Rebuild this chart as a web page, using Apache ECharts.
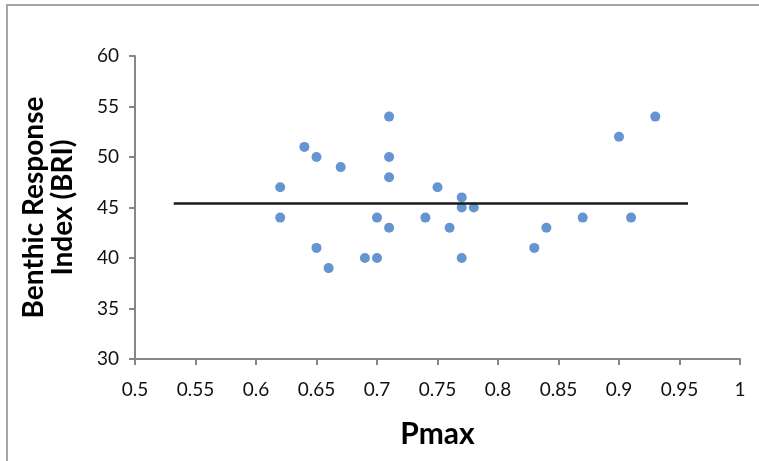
<!DOCTYPE html>
<html>
<head>
<meta charset="utf-8">
<script src="https://cdn.jsdelivr.net/npm/echarts@6/dist/echarts.min.js"></script>
<style>
  html, body { margin: 0; padding: 0; background: #fff; }
  #chart { width: 759px; height: 461px; }
</style>
</head>
<body>
<div id="chart"></div>
<script>
// Pmax vs BRI
let pmax = [0.62, 0.62, 0.64, 0.65, 0.65, 0.66, 0.67, 0.69, 0.70, 0.70, 0.71, 0.71, 0.71, 0.71,
    0.74, 0.75, 0.76, 0.77, 0.77, 0.77, 0.78, 0.83, 0.84, 0.87, 0.90, 0.91, 0.93];
let bri = [47, 44, 51, 50, 41, 39, 49, 40, 44, 40, 54, 50, 48, 43,
    44, 47, 43, 46, 45, 40, 45, 41, 43, 44, 52, 44, 54];
// mean line
let meanLineX = [0.532, 0.957];
let meanLineY = [45.4, 45.4];

let points = pmax.map((x, i) => [x, bri[i]]);
let meanLine = meanLineX.map((x, i) => [x, meanLineY[i]]);

let chart = echarts.init(document.getElementById('chart'));
let axisColor = '#868686';
let font = 'Lato, "Open Sans", sans-serif';

chart.setOption({
    animation: false,
    backgroundColor: '#fff',
    textStyle: { fontFamily: font },
    graphic: [{
        type: 'rect',
        shape: { x: 7, y: 5, width: 800, height: 500 },
        style: { fill: 'none', stroke: '#a6a6a6', lineWidth: 2 },
        silent: true
    }],
    grid: { left: 135, top: 56, right: 19, bottom: 102 },
    xAxis: {
        type: 'value',
        min: 0.5,
        max: 1,
        interval: 0.05,
        name: 'Pmax',
        nameLocation: 'middle',
        nameGap: 60,
        nameTextStyle: { fontSize: 30, fontWeight: 'bold', color: '#000', fontFamily: font },
        axisLine: { lineStyle: { color: axisColor, width: 2 } },
        axisTick: { show: true, length: 6, lineStyle: { color: axisColor, width: 2 } },
        splitLine: { show: false },
        axisLabel: {
            color: '#111', fontSize: 19, margin: 21, fontFamily: font,
            formatter: v => String(parseFloat(v.toFixed(2)))
        }
    },
    yAxis: {
        type: 'value',
        min: 30,
        max: 60,
        interval: 5,
        name: 'Benthic Response\nIndex (BRI)',
        nameLocation: 'middle',
        nameRotate: 90,
        nameGap: 58,
        nameTextStyle: { fontSize: 28, fontWeight: 'bold', color: '#000', lineHeight: 29, fontFamily: font },
        axisLine: { show: true, lineStyle: { color: axisColor, width: 2 } },
        axisTick: { show: true, length: 6, lineStyle: { color: axisColor, width: 2 } },
        splitLine: { show: false },
        axisLabel: { color: '#111', fontSize: 19, margin: 16, fontFamily: font }
    },
    series: [{
        type: 'line',
        data: meanLine,
        symbol: 'none',
        lineStyle: { color: '#1a1a1a', width: 2.5 },
        silent: true
    }, {
        type: 'scatter',
        data: points,
        symbolSize: 10,
        itemStyle: { color: '#3f7bc4' }
    }]
});
</script>
</body>
</html>
